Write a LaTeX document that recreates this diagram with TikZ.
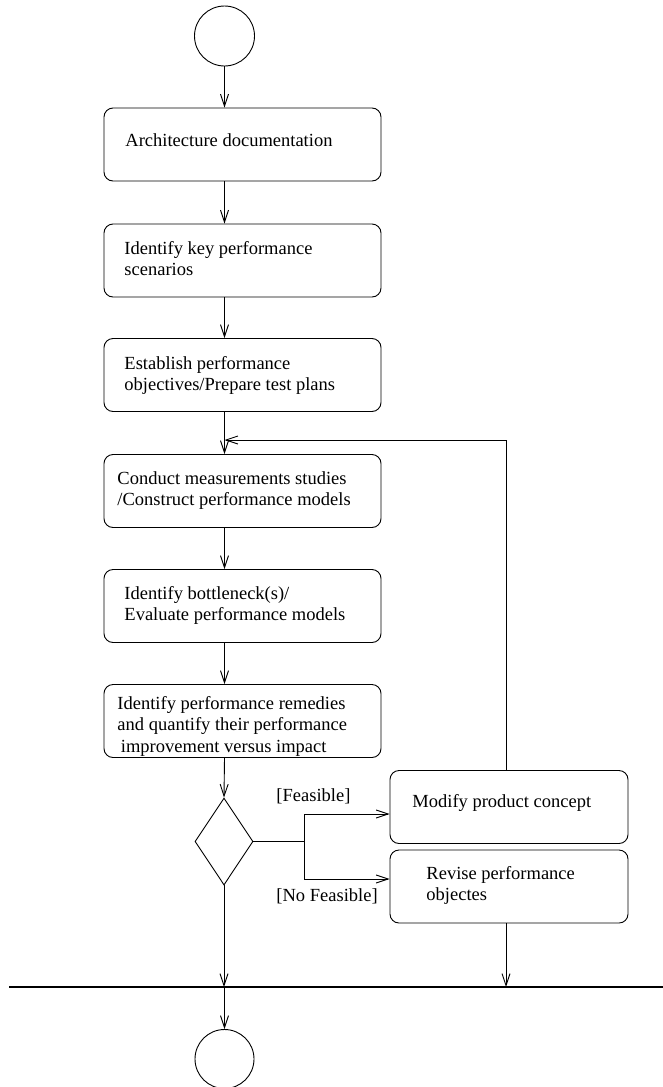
\documentclass[tikz,border=0pt]{standalone}
\usepackage{fontspec}
\setmainfont{Liberation Serif}
\usetikzlibrary{arrows.meta,shapes.geometric}
\newcommand\mlines[1]{\begin{tabular}[t]{@{}l@{}}#1\end{tabular}}
\begin{document}
\begin{tikzpicture}[x=1pt,y=-1pt,
  line width=0.9pt,
  font=\fontsize{18.5}{21.5}\selectfont,
  actbox/.style={draw,rounded corners=9pt,minimum width=277pt,minimum height=73pt,inner sep=0pt},
  sidebox/.style={draw,rounded corners=9pt,minimum width=238pt,minimum height=73pt,inner sep=0pt},
  txt/.style={anchor=base west,inner sep=0pt},
  arr/.style={-{Straight Barb[length=12pt,width=8pt]}},
  terminal/.style={draw,circle,minimum size=60pt,inner sep=0pt},
  decision/.style={draw,diamond,minimum width=58pt,minimum height=87pt,inner sep=0pt},
  syncbar/.style={line width=1.4pt}]
\useasboundingbox (0,0) rectangle (663,1087);
\clip (0,0) rectangle (663,1087);

% terminals
\node[terminal] (start) at (224.5,36) {};
\node[terminal,minimum size=59pt] (end) at (224.5,1059) {};

% activity boxes
\node[actbox] (b1) at (242.5,144.5) {};
\node[actbox] (b2) at (242.5,260.5) {};
\node[actbox] (b3) at (242.5,375) {};
\node[actbox] (b4) at (242.5,491) {};
\node[actbox] (b5) at (242.5,606) {};
\node[actbox] (b6) at (242.5,721) {};
\node[sidebox] (mod) at (509,807) {};
\node[sidebox] (rev) at (509,886.5) {};

% texts
\node[txt] (t1) at (125,146) {Architecture documentation};
\node[txt] (t2) at (124,254) {\mlines{Identify key performance\\scenarios}};
\node[txt] (t3) at (124,369) {\mlines{Establish performance\\objectives/Prepare test plans}};
\node[txt] (t4) at (117,484) {\mlines{Conduct measurements studies\\/Construct performance models}};
\node[txt] (t5) at (124,599) {\mlines{Identify bottleneck(s)/\\Evaluate performance models}};
\node[txt] (t6) at (117,709) {\mlines{Identify performance remedies\\and quantify their performance\\\hspace{3.5pt}improvement versus impact}};
\node[txt] (tm) at (412,807) {Modify product concept};
\node[txt] (tr) at (426,879) {\mlines{Revise performance\\objectes}};

% decision
\node[decision] (d) at (224,841.5) {};
\node[txt] (lf) at (276,801) {[Feasible]};
\node[txt] (lnf) at (276,901) {[No Feasible]};

% coordinates
\coordinate (jt) at (304,814);
\coordinate (jb) at (304,879);
\coordinate (jm) at (304,841.5);
\coordinate (lp) at (506,440);
\coordinate (barL) at (9,987);
\coordinate (barR) at (663,987);

% main flow
\draw[arr] (start.south) -- (b1.north -| start);
\draw[arr] (b1.south -| start) -- (b2.north -| start);
\draw[arr] (b2.south -| start) -- (b3.north -| start);
\draw[arr] (b3.south -| start) -- (b4.north -| start);
\draw[arr] (b4.south -| start) -- (b5.north -| start);
\draw[arr] (b5.south -| start) -- (b6.north -| start);
\draw[arr] (b6.south -| start) -- (d.north);

% branches
\draw (d.east) -- (jm);
\draw (jt) -- (jb);
\draw[arr] (jt) -- (jt -| mod.west);
\draw[arr] (jb) -- (jb -| rev.west);

% loop back
\draw[arr] (mod.north -| lp) -- (lp) -- (lp -| start);

% synchronisation bar
\draw[syncbar] (barL) -- (barR);
\draw[arr] (d.south) -- (d.south |- barL);
\draw[arr] (rev.south -| lp) -- (lp |- barL);
\draw[arr] (start |- barL) -- (end.north);
\end{tikzpicture}
\end{document}
